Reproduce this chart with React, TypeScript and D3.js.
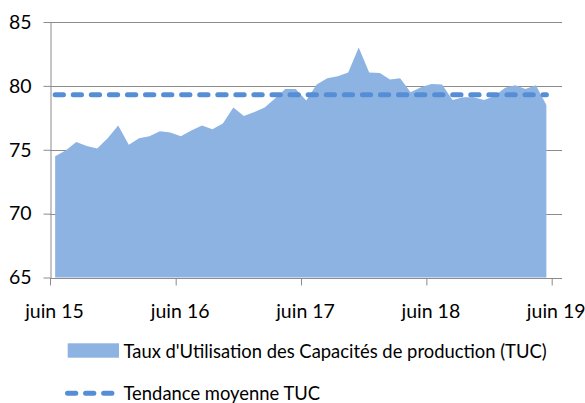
import React, { useRef, useEffect } from 'react';
import * as d3 from 'd3';

// TUC mensuel, juin 2015 -> mai 2019
const firstMonth = new Date(2015, 5, 1);
const tucValues = [
  74.5, 74.95, 75.6, 75.3, 75.1, 75.9, 76.9, 75.4, 75.9, 76.05, 76.45, 76.35,
  76.05, 76.5, 76.9, 76.6, 77.05, 78.3, 77.65, 77.95, 78.3, 79.0, 79.75, 79.75,
  78.85, 80.1, 80.6, 80.75, 81.05, 83.0, 81.05, 81.0, 80.5, 80.6, 79.5, 79.9,
  80.15, 80.1, 78.9, 79.1, 79.1, 78.9, 79.2, 79.85, 80.05, 79.75, 80.05, 78.5,
];
const trendValue = 79.3;

const xTickYears = [2015, 2016, 2017, 2018, 2019];
const xTickLabels = ['juin 15', 'juin 16', 'juin 17', 'juin 18', 'juin 19'];
const yTicks = [65, 70, 75, 80, 85];

const legendLabels = [
  "Taux d'Utilisation des Capacités de production (TUC)",
  'Tendance moyenne TUC',
];

const AREA_COLOR = '#8db3e2';
const TREND_COLOR = '#558ed5';
const GRID_COLOR = '#8c8c8c';
const FONT = "Lato, 'Open Sans', sans-serif";

export default function App() {
  const ref = useRef<SVGSVGElement>(null);

  useEffect(() => {
    const svg = d3.select(ref.current);
    svg.selectAll('*').remove();

    const left = 50, right = 562, top = 22, bottom = 277.5;

    const x = d3.scaleTime()
      .domain([new Date(2015, 5, 1), new Date(2019, 5, 1)])
      .range([left, 551.7]);

    const y = d3.scaleLinear()
      .domain([65, 85])
      .range([bottom, top]);

    // points centrés dans leur mois
    const points = tucValues.map((v, i) => {
      const start = d3.timeMonth.offset(firstMonth, i);
      const end = d3.timeMonth.offset(firstMonth, i + 1);
      return { x: (x(start) + x(end)) / 2, v };
    });

    // grille
    svg.append('g')
      .selectAll('line')
      .data(yTicks.filter(t => t > 65))
      .enter()
      .append('line')
      .attr('x1', left)
      .attr('x2', right)
      .attr('y1', d => Math.round(y(d)) + 0.5)
      .attr('y2', d => Math.round(y(d)) + 0.5)
      .attr('stroke', GRID_COLOR)
      .attr('stroke-width', 1);

    const area = d3.area<{ x: number; v: number }>()
      .x(d => d.x)
      .y0(y(65))
      .y1(d => y(d.v));

    svg.append('path')
      .datum(points)
      .attr('d', area)
      .attr('fill', AREA_COLOR);

    // axe Y
    const yAxis = svg.append('g')
      .attr('transform', `translate(${left + 0.5},0)`)
      .call(d3.axisLeft(y).tickValues(yTicks).tickSize(7).tickPadding(12).tickSizeOuter(0));
    yAxis.select('.domain').attr('stroke', GRID_COLOR);
    yAxis.selectAll('line').attr('stroke', GRID_COLOR);
    yAxis.selectAll('text')
      .attr('fill', '#000')
      .style('font-family', FONT)
      .style('font-size', '19.5px');

    // axe X
    const xAxis = svg.append('g')
      .attr('transform', `translate(0,${Math.round(bottom) + 0.5})`)
      .call(
        d3.axisBottom(x)
          .tickValues(xTickYears.map(yr => new Date(yr, 5, 1)))
          .tickFormat((_d, i) => xTickLabels[i])
          .tickSize(7)
          .tickPadding(19)
          .tickSizeOuter(0)
      );
    xAxis.select('.domain').attr('d', `M${left},0H${right}`).attr('stroke', GRID_COLOR);
    xAxis.selectAll('line').attr('stroke', GRID_COLOR);
    xAxis.selectAll('text')
      .attr('dx', 4)
      .attr('fill', '#000')
      .style('font-family', FONT)
      .style('font-size', '19.5px');

    // tendance moyenne
    const line = d3.line<{ x: number; v: number }>()
      .x(d => d.x)
      .y(() => y(trendValue));

    svg.append('path')
      .datum([points[0], points[points.length - 1]])
      .attr('d', line)
      .attr('fill', 'none')
      .attr('stroke', TREND_COLOR)
      .attr('stroke-width', 5)
      .attr('stroke-linecap', 'round')
      .attr('stroke-dasharray', '8.3 9.77');

    // légende
    const lg = svg.append('g');
    lg.append('rect')
      .attr('x', 67.7)
      .attr('y', 343.3)
      .attr('width', 51.3)
      .attr('height', 14.4)
      .attr('fill', AREA_COLOR);
    lg.append('line')
      .attr('x1', 67.5)
      .attr('x2', 112)
      .attr('y1', 393.3)
      .attr('y2', 393.3)
      .attr('stroke', TREND_COLOR)
      .attr('stroke-width', 5)
      .attr('stroke-linecap', 'round')
      .attr('stroke-dasharray', '8.3 9.77');
    lg.selectAll('text')
      .data(legendLabels)
      .enter()
      .append('text')
      .text(d => d)
      .attr('x', 123.5)
      .attr('y', (_d, i) => (i === 0 ? 357.5 : 399.5))
      .attr('fill', '#000')
      .style('font-family', FONT)
      .style('font-size', '18.4px');
  }, []);

  return (
    <svg
      ref={ref}
      width={585}
      height={403}
      style={{ position: 'absolute', left: 0, top: 0, background: '#fff' }}
    />
  );
}
